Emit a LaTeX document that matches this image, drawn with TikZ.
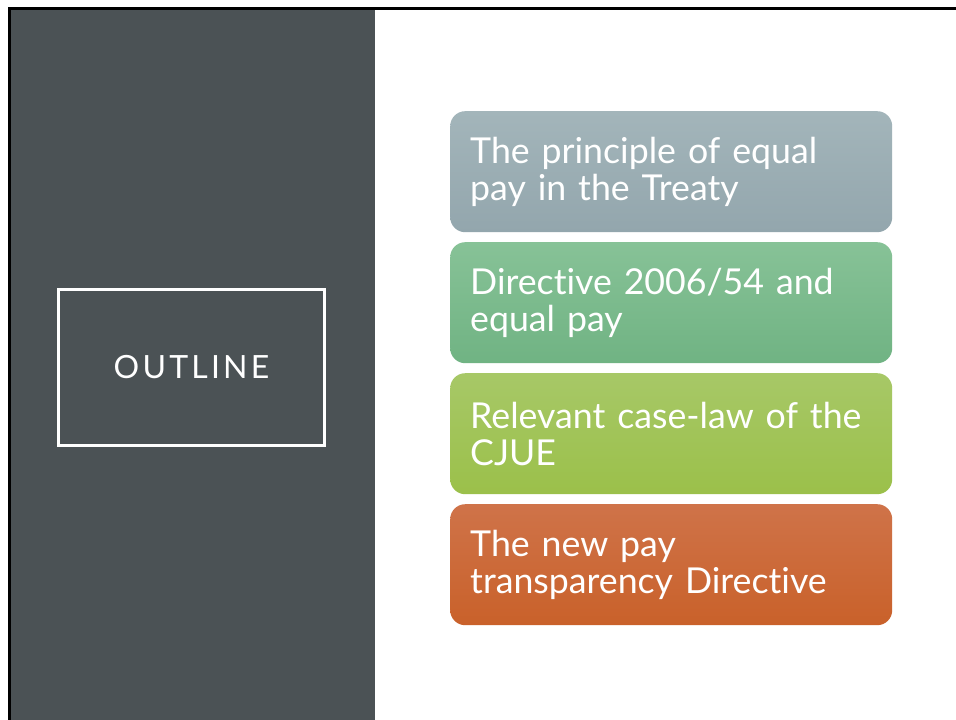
\documentclass[tikz,border=0pt]{standalone}
\usepackage{fontspec}
\setmainfont[Ligatures=NoCommon]{Lato}
\newfontfamily\outlinefont[LetterSpace=10]{Lato}
\definecolor{panel}{HTML}{4B5255}
\definecolor{aTop}{HTML}{A3B5BA}
\definecolor{aBot}{HTML}{93A6AD}
\definecolor{bTop}{HTML}{87C297}
\definecolor{bBot}{HTML}{70B383}
\definecolor{cTop}{HTML}{A7C867}
\definecolor{cBot}{HTML}{9BC04A}
\definecolor{dTop}{HTML}{CF7349}
\definecolor{dBot}{HTML}{C9612A}
\tikzset{
  itembox/.style={rounded corners=15pt, minimum width=442pt, minimum height=121pt,
    text width=402pt, inner xsep=20pt, inner ysep=0pt, align=left, anchor=north west,
    font=\fontsize{35.7}{37}\selectfont, text=white},
  titlebox/.style={draw=white, line width=2.7pt, minimum width=266pt, minimum height=156pt,
    inner sep=0pt, text=white, font=\outlinefont\fontsize{32}{32}\selectfont}
}
\begin{document}
\begin{tikzpicture}[x=1pt,y=-1pt]
\useasboundingbox (0,0) rectangle (956,720);
\fill[white] (0,0) rectangle (956,720);
\fill[panel] (9,9) rectangle (375,720);
\draw[black,line width=3pt] (9.5,720) -- (9.5,8.5) -- (956,8.5);
\node[titlebox] (outline) at (191.5,367.5) {OUTLINE};
\node[itembox, top color=aTop, bottom color=aBot] (b1) at (450,111) {The principle of equal\\pay in the Treaty};
\node[itembox, top color=bTop, bottom color=bBot] (b2) at (450,242) {Directive 2006/54 and\\equal pay};
\node[itembox, top color=cTop, bottom color=cBot] (b3) at (450,373) {Relevant case-law of the\\CJUE};
\node[itembox, top color=dTop, bottom color=dBot] (b4) at (450,504) {The new pay\\transparency Directive};
\end{tikzpicture}
\end{document}
